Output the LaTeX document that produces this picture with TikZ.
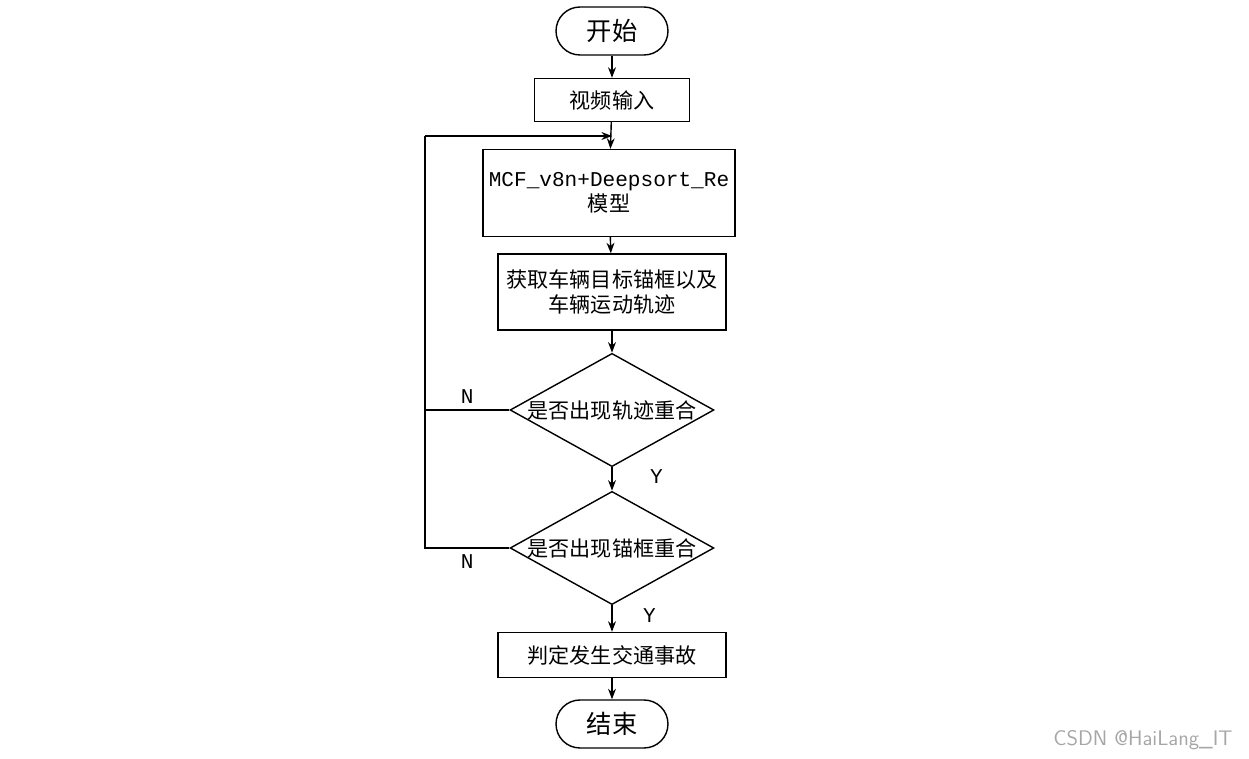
\documentclass[tikz,border=0pt]{standalone}
\usepackage{fontspec}
\newfontfamily\cjk{Noto Sans CJK SC}
\newfontfamily\monofont{Liberation Mono}
\usetikzlibrary{shapes.geometric,arrows.meta}
\begin{document}
\begin{tikzpicture}[x=0.02cm,y=-0.02cm,
  box/.style={draw, thick, minimum height=0.86cm, font=\cjk\large},
  term/.style={draw, thick, rounded corners=0.48cm, minimum width=2.24cm, minimum height=0.96cm, font=\cjk\Large},
  dec/.style={draw, thick, diamond, aspect=1.8, minimum width=4.02cm, minimum height=2.2cm, inner sep=0pt, font=\cjk\large},
  arr/.style={thick, -{Stealth[length=6pt]}},
  lab/.style={font=\monofont\large}]
\useasboundingbox (0,0) rectangle (1249,759);

\node[term] (start) at (612,31) {开始};
\node[box, minimum width=3.1cm] (input) at (612,100) {视频输入};
\node[box, minimum width=4.4cm, minimum height=1.74cm, align=center] (model) at (609,193)
  {{\monofont\large MCF\_v8n+Deepsort\_Re}\\模型};
\node[box, minimum width=4.56cm, minimum height=1.52cm, align=center] (get) at (612,292)
  {获取车辆目标锚框以及\\车辆运动轨迹};
\node[dec] (track) at (612,410) {是否出现轨迹重合};
\node[dec] (anchor) at (612,548) {是否出现锚框重合};
\node[box, minimum width=4.56cm, minimum height=0.9cm] (judge) at (612,655) {判定发生交通事故};
\node[term] (stop) at (612,724) {结束};
\coordinate (join) at (612,136);
\coordinate (corner) at (425,136);

\draw[arr] (start) -- (input);
\draw[arr] (input) -- (model);
\draw[arr] (model) -- (get);
\draw[arr] (get) -- (track);
\draw[arr] (track) -- node[lab, right, pos=0.4, xshift=18pt] {Y} (anchor);
\draw[arr] (anchor) -- node[lab, right, pos=0.4, xshift=14pt] {Y} (judge);
\draw[arr] (judge) -- (stop);
\draw[thick] (track.west) -- node[lab, above, pos=0.5] {N} (track.west -| corner) -- (corner);
\draw[thick] (anchor.west) -- node[lab, below, pos=0.5] {N} (anchor.west -| corner) -- (track.west -| corner);
\draw[arr] (corner) -- (join);

\node[font=\large\sffamily, text=gray!70] (mark) at (1143,740) {CSDN @HaiLang\_IT};
\end{tikzpicture}
\end{document}
